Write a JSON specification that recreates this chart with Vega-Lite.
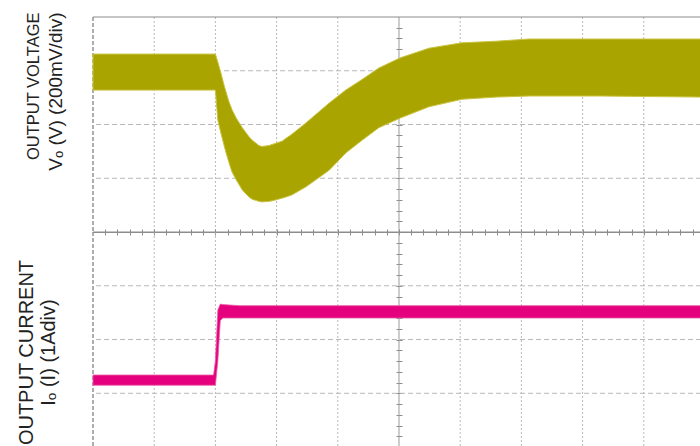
{
  "$schema": "https://vega.github.io/schema/vega-lite/v6.json",
  "background": "white",
  "padding": {"left": 15, "top": 12, "right": 0, "bottom": 0},
  "config": {"font": "Liberation Sans", "view": {"stroke": null}},
  "spacing": 0,
  "bounds": "flush",
  "datasets": {
    "gx": [{"x": 1}, {"x": 2}, {"x": 3}, {"x": 4}, {"x": 6}, {"x": 7}, {"x": 8}, {"x": 9}],
    "gy": [{"y": 1}, {"y": 2}, {"y": 3}],
    "left": [{"x": 0}],
    "mid": [{"x": 5}],
    "top": [{"y": 4}],
    "volt": [
      {"x": 0, "hi": 3.31, "lo": 2.64},
      {"x": 2.0, "hi": 3.31, "lo": 2.64},
      {"x": 2.04, "hi": 3.16, "lo": 2.08},
      {"x": 2.09, "hi": 2.96, "lo": 1.84},
      {"x": 2.14, "hi": 2.74, "lo": 1.62},
      {"x": 2.17, "hi": 2.62, "lo": 1.49},
      {"x": 2.22, "hi": 2.43, "lo": 1.30},
      {"x": 2.27, "hi": 2.28, "lo": 1.12},
      {"x": 2.34, "hi": 2.12, "lo": 0.97},
      {"x": 2.44, "hi": 1.94, "lo": 0.78},
      {"x": 2.55, "hi": 1.77, "lo": 0.65},
      {"x": 2.60, "hi": 1.71, "lo": 0.61},
      {"x": 2.71, "hi": 1.61, "lo": 0.57},
      {"x": 2.76, "hi": 1.59, "lo": 0.56},
      {"x": 2.88, "hi": 1.61, "lo": 0.57},
      {"x": 2.93, "hi": 1.63, "lo": 0.58},
      {"x": 3.09, "hi": 1.69, "lo": 0.63},
      {"x": 3.15, "hi": 1.74, "lo": 0.65},
      {"x": 3.25, "hi": 1.82, "lo": 0.69},
      {"x": 3.48, "hi": 2.03, "lo": 0.84},
      {"x": 3.86, "hi": 2.40, "lo": 1.15},
      {"x": 4.13, "hi": 2.64, "lo": 1.47},
      {"x": 4.40, "hi": 2.84, "lo": 1.71},
      {"x": 4.67, "hi": 3.05, "lo": 1.94},
      {"x": 5.02, "hi": 3.24, "lo": 2.12},
      {"x": 5.49, "hi": 3.42, "lo": 2.33},
      {"x": 6.03, "hi": 3.52, "lo": 2.47},
      {"x": 6.59, "hi": 3.55, "lo": 2.51},
      {"x": 7.12, "hi": 3.59, "lo": 2.53},
      {"x": 8.27, "hi": 3.59, "lo": 2.53},
      {"x": 9.935, "hi": 3.59, "lo": 2.51}
    ],
    "curr": [
      {"x": 0, "hi": 1.34, "lo": 1.15},
      {"x": 1.97, "hi": 1.34, "lo": 1.15},
      {"x": 2.0, "hi": 1.6, "lo": 1.15},
      {"x": 2.04, "hi": 2.55, "lo": 1.6},
      {"x": 2.08, "hi": 2.66, "lo": 2.35},
      {"x": 2.12, "hi": 2.65, "lo": 2.40},
      {"x": 2.4, "hi": 2.63, "lo": 2.40},
      {"x": 9.935, "hi": 2.63, "lo": 2.40}
    ]
  },
  "vconcat": [
    {
      "width": 608,
      "height": 215,
      "resolve": {"axis": {"x": "independent", "y": "independent"}},
      "layer": [
        {
          "data": {"name": "gx"},
          "mark": {"type": "rule", "color": "#b8b8b8", "strokeDash": [2, 2], "strokeWidth": 1},
          "encoding": {
            "x": {"field": "x", "type": "quantitative", "scale": {"domain": [0, 9.935], "nice": false, "zero": false},
              "axis": {"orient": "bottom", "values": [0.2,0.4,0.6,0.8,1,1.2,1.4,1.6,1.8,2,2.2,2.4,2.6,2.8,3,3.2,3.4,3.6,3.8,4,4.2,4.4,4.6,4.8,5,5.2,5.4,5.6,5.8,6,6.2,6.4,6.6,6.8,7,7.2,7.4,7.6,7.8,8,8.2,8.4,8.6,8.8,9,9.2,9.4,9.6,9.8],
                "labels": false, "grid": false, "title": null, "domain": true, "domainColor": "#8c8c8c", "domainWidth": 1, "tickColor": "#8c8c8c", "tickSize": 3, "tickWidth": 1}}
          }
        },
        {
          "data": {"name": "gy"},
          "mark": {"type": "rule", "color": "#b8b8b8", "strokeDash": [5, 3], "strokeWidth": 1},
          "encoding": {
            "y": {"field": "y", "type": "quantitative", "scale": {"domain": [0, 4], "nice": false, "zero": false},
              "axis": {"orient": "right", "offset": -305, "values": [0.2,0.4,0.6,0.8,1,1.2,1.4,1.6,1.8,2,2.2,2.4,2.6,2.8,3,3.2,3.4,3.6,3.8],
                "labels": false, "grid": false, "title": null, "domain": false, "tickColor": "#8c8c8c", "tickSize": 6, "tickWidth": 1}}
          }
        },
        {
          "data": {"name": "left"},
          "mark": {"type": "rule", "color": "#777777", "strokeDash": [4, 2], "strokeWidth": 1.2},
          "encoding": {"x": {"field": "x", "type": "quantitative", "axis": null}}
        },
        {
          "data": {"name": "mid"},
          "mark": {"type": "rule", "color": "#9a9a9a", "strokeWidth": 1},
          "encoding": {"x": {"field": "x", "type": "quantitative", "axis": null}}
        },
        {
          "data": {"name": "top"},
          "mark": {"type": "rule", "color": "#8c8c8c", "strokeWidth": 1.2},
          "encoding": {"y": {"field": "y", "type": "quantitative",
            "axis": {"orient": "left", "labels": false, "ticks": false, "domain": false, "grid": false,
              "title": "Vₒ (V) (200mV/div)", "titleFontSize": 19, "titleFontWeight": "normal", "titleColor": "#222222",
              "titleAngle": -90, "titleX": -38, "titleY": -5, "titleAlign": "right", "titleBaseline": "middle"}}}
        },
        {
          "data": {"name": "volt"},
          "mark": {"type": "area", "color": "#aaa400", "stroke": "#c9c440", "strokeWidth": 1},
          "encoding": {
            "x": {"field": "x", "type": "quantitative", "axis": null},
            "y": {"field": "hi", "type": "quantitative",
              "axis": {"orient": "left", "labels": false, "ticks": false, "domain": false, "grid": false,
                "title": "OUTPUT VOLTAGE", "titleFontSize": 16.5, "titleFontWeight": "normal", "titleColor": "#222222",
                "titleAngle": -90, "titleX": -60, "titleY": -5, "titleAlign": "right", "titleBaseline": "middle"}},
            "y2": {"field": "lo"}
          }
        }
      ]
    },
    {
      "width": 608,
      "height": 214,
      "resolve": {"axis": {"x": "independent", "y": "independent"}},
      "layer": [
        {
          "data": {"name": "gx"},
          "mark": {"type": "rule", "color": "#b8b8b8", "strokeDash": [2, 2], "strokeWidth": 1},
          "encoding": {
            "x": {"field": "x", "type": "quantitative", "scale": {"domain": [0, 9.935], "nice": false, "zero": false},
              "axis": {"orient": "top", "values": [0.2,0.4,0.6,0.8,1,1.2,1.4,1.6,1.8,2,2.2,2.4,2.6,2.8,3,3.2,3.4,3.6,3.8,4,4.2,4.4,4.6,4.8,5,5.2,5.4,5.6,5.8,6,6.2,6.4,6.6,6.8,7,7.2,7.4,7.6,7.8,8,8.2,8.4,8.6,8.8,9,9.2,9.4,9.6,9.8],
                "labels": false, "grid": false, "title": null, "domain": true, "domainColor": "#8c8c8c", "domainWidth": 1, "tickColor": "#8c8c8c", "tickSize": 3, "tickWidth": 1}}
          }
        },
        {
          "data": {"name": "gy"},
          "mark": {"type": "rule", "color": "#b8b8b8", "strokeDash": [5, 3], "strokeWidth": 1},
          "encoding": {
            "y": {"field": "y", "type": "quantitative", "scale": {"domain": [0.02, 4], "nice": false, "zero": false},
              "axis": {"orient": "right", "offset": -305, "values": [0.2,0.4,0.6,0.8,1,1.2,1.4,1.6,1.8,2,2.2,2.4,2.6,2.8,3,3.2,3.4,3.6,3.8],
                "labels": false, "grid": false, "title": null, "domain": false, "tickColor": "#8c8c8c", "tickSize": 6, "tickWidth": 1}}
          }
        },
        {
          "data": {"name": "left"},
          "mark": {"type": "rule", "color": "#777777", "strokeDash": [4, 2], "strokeWidth": 1.2},
          "encoding": {"x": {"field": "x", "type": "quantitative", "axis": null}}
        },
        {
          "data": {"name": "mid"},
          "mark": {"type": "rule", "color": "#9a9a9a", "strokeWidth": 1},
          "encoding": {"x": {"field": "x", "type": "quantitative", "axis": null}}
        },
        {
          "data": {"name": "top"},
          "mark": {"type": "rule", "color": "#8c8c8c", "strokeWidth": 1},
          "encoding": {"y": {"field": "y", "type": "quantitative",
            "axis": {"orient": "left", "labels": false, "ticks": false, "domain": false, "grid": false,
              "title": "Iₒ (I) (1Adiv)", "titleFontSize": 20, "titleFontWeight": "normal", "titleColor": "#222222",
              "titleAngle": -90, "titleX": -45, "titleY": 120, "titleAlign": "center", "titleBaseline": "middle"}}}
        },
        {
          "data": {"name": "curr"},
          "mark": {"type": "area", "color": "#e5007d", "stroke": "#ee5aa8", "strokeWidth": 0.8},
          "encoding": {
            "x": {"field": "x", "type": "quantitative", "axis": null},
            "y": {"field": "hi", "type": "quantitative",
              "axis": {"orient": "left", "labels": false, "ticks": false, "domain": false, "grid": false,
                "title": "OUTPUT CURRENT", "titleFontSize": 20, "titleFontWeight": "normal", "titleColor": "#222222",
                "titleAngle": -90, "titleX": -67, "titleY": 120, "titleAlign": "center", "titleBaseline": "middle"}},
            "y2": {"field": "lo"}
          }
        }
      ]
    }
  ]
}
